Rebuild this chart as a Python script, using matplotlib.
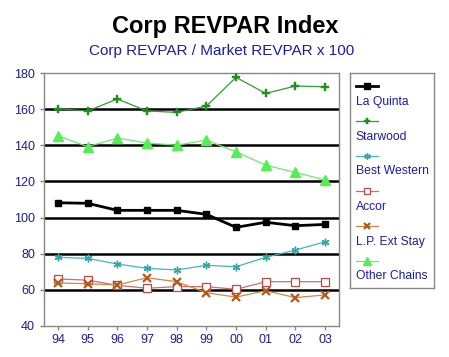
import matplotlib
matplotlib.use("Agg")
import matplotlib.pyplot as plt
from matplotlib.lines import Line2D

plt.rcParams['font.family'] = ['Liberation Sans', 'DejaVu Sans']

years = ["94", "95", "96", "97", "98", "99", "00", "01", "02", "03"]
la_quinta = [108.2, 107.9, 104.0, 104.0, 104.0, 101.8, 94.6, 97.4, 95.5, 96.2]
starwood = [160.2, 159.0, 165.6, 159.0, 158.2, 161.7, 177.6, 168.7, 172.8, 172.4]
best_western = [78.0, 77.4, 74.3, 71.9, 71.0, 73.6, 72.8, 78.0, 82.0, 86.6]
accor = [66.0, 65.4, 62.5, 60.9, 61.8, 61.8, 60.3, 64.5, 64.5, 64.5]
lp_ext_stay = [63.8, 63.4, 62.7, 66.7, 64.5, 58.4, 56.0, 59.5, 55.7, 57.2]
other_chains = [145.3, 139.2, 144.0, 141.3, 140.0, 142.9, 136.4, 129.0, 125.0, 120.8]
y_ticks = [40, 60, 80, 100, 120, 140, 160, 180]
grid_levels = [60, 80, 100, 120, 140, 160]

W, H = 449, 357
fig = plt.figure(figsize=(W / 100, H / 100), dpi=100)
fig.patch.set_facecolor('white')

ax = fig.add_axes([44 / W, 1 - 326 / H, (339 - 44) / W, (326 - 73) / H])

styles = [
    ("La Quinta", la_quinta, dict(color='black', lw=2.0, marker='s', ms=4.8, mfc='black', mec='black')),
    ("Starwood", starwood, dict(color='#2e9e2e', lw=0.9, marker='P', ms=5.2, mfc='#1f8f1f', mec='#1f8f1f', mew=0.3)),
    ("Best Western", best_western, dict(color='#40b8b8', lw=0.9, marker=(6, 2, 0), ms=5.5, mfc='#30a8a8', mec='#30a8a8', mew=1.0)),
    ("Accor", accor, dict(color='#c87070', lw=0.9, marker='s', ms=5.5, mfc='white', mec='#c04848', mew=0.9)),
    ("L.P. Ext Stay", lp_ext_stay, dict(color='#d08848', lw=0.9, marker='x', ms=5.5, mfc='#b85818', mec='#b85818', mew=1.6)),
    ("Other Chains", other_chains, dict(color='#66ee66', lw=0.9, marker='^', ms=7, mfc='#55ee55', mec='#55ee55')),
]

x = list(range(len(years)))
for lvl in grid_levels:
    ax.axhline(lvl, color='black', lw=1.8, zorder=1)
for name, vals, st in styles:
    ax.plot(x, vals, zorder=3, **st)

ax.set_xlim(-0.47, 9.47)
ax.set_ylim(40, 180)
ax.set_yticks(y_ticks)
ax.set_xticks(x)
ax.set_xticklabels(years)
for sp in ax.spines.values():
    sp.set_color('#888888')
    sp.set_linewidth(1.0)
ax.tick_params(axis='both', colors='#888888', labelcolor='#1c1c9c', labelsize=9, length=3, width=1, direction='out')
ax.tick_params(axis='x', pad=3)

# Title and subtitle
fig.text(225 / W, 1 - 27 / H, "Corp REVPAR Index", ha='center', va='center', fontsize=17, fontweight='bold', color='black')
fig.text(222 / W, 1 - 51 / H, "Corp REVPAR / Market REVPAR x 100", ha='center', va='center', fontsize=11, color='#1c1caa')

# Legend (line sample above label)
lx0, lx1, ly0, ly1 = 350, 434, 73, 288
lax = fig.add_axes([lx0 / W, 1 - ly1 / H, (lx1 - lx0) / W, (ly1 - ly0) / H])
lax.set_xlim(lx0, lx1)
lax.set_ylim(ly1, ly0)
lax.set_xticks([])
lax.set_yticks([])
for sp in lax.spines.values():
    sp.set_color('#888888')
    sp.set_linewidth(1.0)
line_y = [86, 121, 156, 191, 226, 261]
text_y = [101.5, 136.5, 171, 206.5, 241.5, 276]
for (name, vals, st), yl, yt in zip(styles, line_y, text_y):
    st2 = dict(st)
    st2['ms'] = st2['ms'] * 0.85
    lax.add_line(Line2D([356, 367, 378], [yl, yl, yl], markevery=[1], **st2))
    lax.text(355.5, yt, name, ha='left', va='center', fontsize=8.7, color='#1c1caa')

fig.savefig("out.png", dpi=100, facecolor='white')
